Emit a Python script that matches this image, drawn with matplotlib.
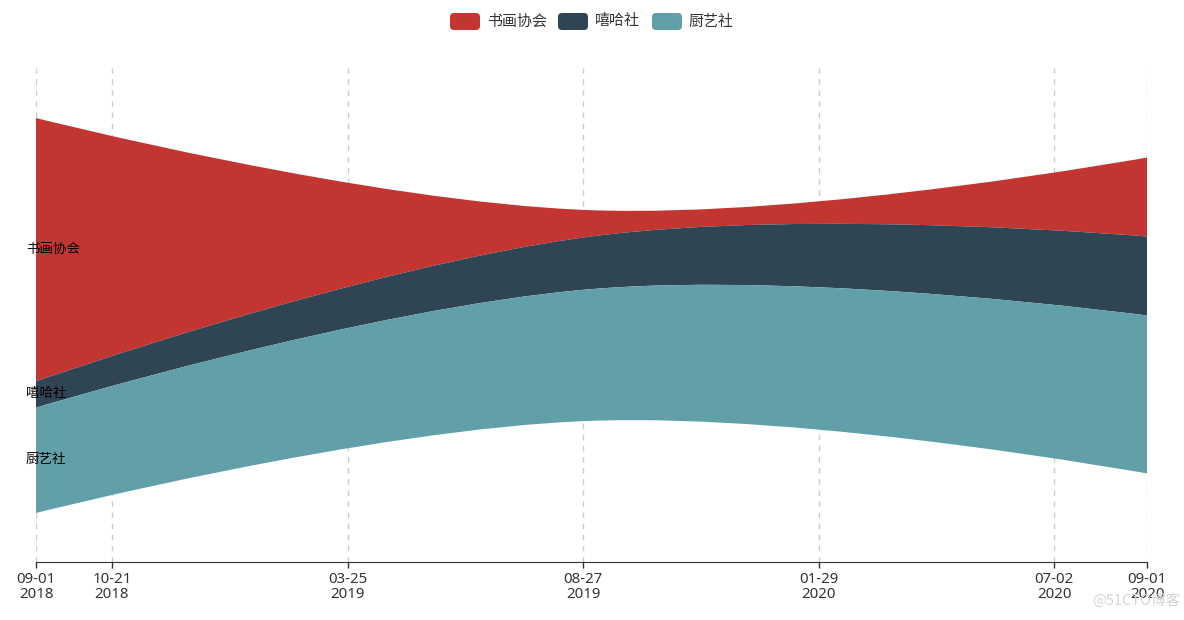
import matplotlib
matplotlib.use('Agg')
import matplotlib.pyplot as plt
import matplotlib.dates as mdates
from matplotlib.path import Path
from matplotlib.patches import PathPatch, FancyBboxPatch
from matplotlib.transforms import IdentityTransform
import numpy as np

plt.rcParams['font.family'] = ['Noto Sans CJK SC', 'DejaVu Sans']

# data
dates = ['2018-09-01', '2019-09-01', '2020-09-01']
series_names = ['书画协会', '嘻哈社', '厨艺社']
series_values = [
    [10, 1, 3],   # 书画协会
    [1, 2, 3],    # 嘻哈社
    [4, 5, 6],    # 厨艺社
]
series_colors = ['#c23531', '#2f4554', '#61a0a8']
tick_dates = ['2018-09-01', '2018-10-21', '2019-03-25', '2019-08-27',
              '2020-01-29', '2020-07-02', '2020-09-01']

W, H = 1184, 620
x = mdates.datestr2num(dates)
vals = np.array(series_values, dtype=float)
totals = vals.sum(axis=0)
base = (totals.max() - totals) / 2
# first series sits on top of the river
above = np.vstack([np.zeros(len(x)), np.cumsum(vals, axis=0)[:-1]])
tops = base + totals - above
bottoms = tops - vals

fig = plt.figure(figsize=(W / 100, H / 100), dpi=100)
ax = fig.add_axes([36 / W, 58 / H, 1111 / W, 494 / H])
ky = 395 / totals.max()  # pixels per unit
ax.set_xlim(x[0], x[-1])
ax.set_ylim(-49 / ky, 445 / ky)


def smooth_segments(pts, smooth=0.4):
    """control points like echarts polygon smoothing (display coords)"""
    n = len(pts)
    cps = [pts[0]]
    for i in range(1, n - 1):
        prev, cur, nxt = pts[i - 1], pts[i], pts[i + 1]
        v = (nxt - prev) * smooth
        d0 = np.hypot(*(cur - prev))
        d1 = np.hypot(*(cur - nxt))
        s = d0 + d1
        cps.append(cur - v * d0 / s)
        cps.append(cur + v * d1 / s)
    cps.append(pts[-1])
    verts = []
    for i in range(n - 1):
        verts += [cps[2 * i], cps[2 * i + 1], pts[i + 1]]
    return verts


to_disp = ax.transData
to_data = ax.transData.inverted()
for i, name in enumerate(series_names):
    top = to_disp.transform(np.column_stack([x, tops[i]]))
    bot = to_disp.transform(np.column_stack([x, bottoms[i]]))[::-1]
    verts = [top[0]] + smooth_segments(top) + [bot[0]] + smooth_segments(bot) + [top[0]]
    codes = ([Path.MOVETO] + [Path.CURVE4] * (3 * (len(x) - 1)) + [Path.LINETO]
             + [Path.CURVE4] * (3 * (len(x) - 1)) + [Path.CLOSEPOLY])
    path = Path(to_data.transform(np.array(verts)), codes)
    ax.add_patch(PathPatch(path, facecolor=series_colors[i], edgecolor='none', zorder=2))
    ax.annotate(name, xy=(x[0], (tops[i][0] + bottoms[i][0]) / 2),
                xytext=(-10, 1), textcoords='offset pixels',
                ha='left', va='center', fontsize=9.7, color='black', zorder=3)

# axis styling
ticks = mdates.datestr2num(tick_dates)
ax.set_xticks(ticks)
ax.set_xticklabels([mdates.num2date(t).strftime('%m-%d\n%Y') for t in ticks],
                   fontsize=10.8, color='#333333', linespacing=1.0,
                   family=['Noto Sans', 'DejaVu Sans'])
ax.tick_params(axis='x', length=4, width=1, color='#333333', pad=3)
ax.set_yticks([])
for side in ['top', 'left', 'right']:
    ax.spines[side].set_visible(False)
ax.spines['bottom'].set_color('#333333')
ax.grid(axis='x', color='#cccccc', linestyle=(0, (4, 4)), linewidth=1, zorder=0)
ax.set_axisbelow(True)

# legend
icon_x = [450, 558, 652]
for xi, name, col in zip(icon_x, series_names, series_colors):
    fig.patches.append(FancyBboxPatch((xi, H - 30), 30, 17,
                                      boxstyle='round,pad=0,rounding_size=4',
                                      facecolor=col, edgecolor='none',
                                      transform=IdentityTransform(), figure=fig))
    fig.text((xi + 37) / W, (H - 21.5) / H, name, fontsize=10.8, color='#333333',
             ha='left', va='center')

fig.text(1180 / W, (H - 601) / H, '@51CTO博客', fontsize=10.5, color='#d5d5d5',
         ha='right', va='center')

fig.savefig('out.png', dpi=100)
